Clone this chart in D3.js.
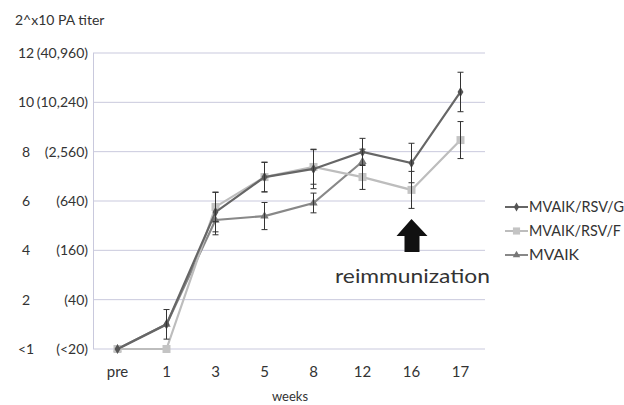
<!DOCTYPE html>
<html><head><meta charset="utf-8">
<script src="https://cdn.jsdelivr.net/npm/d3@7"></script>
<style>body{margin:0;background:#fff}svg{display:block}text{font-family:Lato,"DejaVu Sans",sans-serif;fill:#333}</style>
</head><body><svg id="c" width="624" height="405"></svg>
<script>
const categories = ["pre","1","3","5","8","12","16","17"];
const tickValues = [0,2,4,6,8,10,12];
const tickLeft = ["<1","2","4","6","8","10","12"];
const tickRight = ["(<20)","(40)","(160)","(640)","(2,560)","(10,240)","(40,960)"];
const seriesNames = ["MVAIK/RSV/G","MVAIK/RSV/F","MVAIK"];
const gValues = [0,1.0,5.55,6.97,7.3,7.99,7.54,10.42];
const gErr = [0,0.6,0.8,0.6,0.8,0.55,0.8,0.8];
const fValues = [0,0,5.76,6.97,7.38,6.97,6.45,8.47];
const fErr = [0,0,0.6,0.6,0.7,0.5,0.75,0.75];
const mValues = [0,1.0,5.23,5.39,5.92,7.6,null,null];
const mErr = [0,0,0.6,0.55,0.4,0.5,null,null];

const svg = d3.select("#c");
const x = d3.scaleBand().domain(categories).range([93,485]);
const y = d3.scaleLinear().domain([0,12]).range([349,53]);
const cx = c => x(c) + x.bandwidth()/2;

// grid
svg.append("g").selectAll("line").data(tickValues).join("line")
  .attr("x1",93).attr("x2",485).attr("y1",d=>y(d)).attr("y2",d=>y(d))
  .attr("stroke","#c9c9dd").attr("stroke-width",1);
svg.append("line").attr("x1",93.5).attr("x2",93.5).attr("y1",y(12)).attr("y2",y(0))
  .attr("stroke","#c9c9dd");

// y labels
const yl = svg.append("g");
yl.selectAll("text.l").data(tickValues).join("text").attr("class","l")
  .attr("x",26).attr("y",d=>y(d)+5).attr("text-anchor","middle").attr("font-size",14)
  .text((d,i)=>tickLeft[i]);
yl.selectAll("text.r").data(tickValues).join("text").attr("class","r")
  .attr("x",88).attr("y",d=>y(d)+5).attr("text-anchor","end").attr("font-size",14)
  .text((d,i)=>tickRight[i]);

// x labels
svg.append("g").selectAll("text").data(categories).join("text")
  .attr("x",d=>cx(d)).attr("y",377).attr("text-anchor","middle").attr("font-size",15).text(d=>d);
svg.append("text").attr("x",290).attr("y",401).attr("text-anchor","middle").attr("font-size",13).text("weeks");
svg.append("text").attr("x",15).attr("y",25).attr("font-size",14).text("2^x10 PA titer");

const series = [
  {name:seriesNames[0], v:gValues, e:gErr, line:"#666", mark:"#555", sym:d3.symbolDiamond, size:30},
  {name:seriesNames[1], v:fValues, e:fErr, line:"#bdbdbd", mark:"#c4c4c4", sym:d3.symbolSquare, size:64},
  {name:seriesNames[2], v:mValues, e:mErr, line:"#888", mark:"#777", sym:d3.symbolTriangle, size:30}
];
const line = d3.line().defined(d=>d.v!=null).x(d=>cx(d.c)).y(d=>y(d.v));
[series[2],series[1],series[0]].forEach(s=>{
  const pts = categories.map((c,i)=>({c, v:s.v[i], e:s.e[i]}));
  const g = svg.append("g");
  g.append("path").datum(pts).attr("d",line).attr("fill","none").attr("stroke",s.line).attr("stroke-width",2.2);
  g.selectAll("path.m").data(pts.filter(p=>p.v!=null)).join("path").attr("class","m")
    .attr("transform",p=>`translate(${cx(p.c)},${y(p.v)})`)
    .attr("d",d3.symbol().type(s.sym).size(s.size)).attr("fill",s.mark);
  const eb = pts.filter(p=>p.v!=null && p.e>0);
  g.selectAll("line.ev").data(eb).join("line").attr("class","ev")
    .attr("x1",p=>cx(p.c)).attr("x2",p=>cx(p.c)).attr("y1",p=>y(p.v+p.e)).attr("y2",p=>y(p.v-p.e))
    .attr("stroke","#333").attr("stroke-width",1);
  ["+","-"].forEach(sg=>{
    g.selectAll("line.c"+(sg=="+"?"t":"b")).data(eb).join("line").attr("class","c"+(sg=="+"?"t":"b"))
      .attr("x1",p=>cx(p.c)-3).attr("x2",p=>cx(p.c)+3)
      .attr("y1",p=>y(sg=="+"?p.v+p.e:p.v-p.e)).attr("y2",p=>y(sg=="+"?p.v+p.e:p.v-p.e))
      .attr("stroke","#333").attr("stroke-width",1);
  });
});

// legend
const lg = svg.append("g");
const legW = [95,92,50];
series.forEach((s,i)=>{
  const yy = 207 + i*24;
  lg.append("line").attr("x1",505).attr("x2",528).attr("y1",yy).attr("y2",yy).attr("stroke",s.line).attr("stroke-width",2);
  lg.append("path").attr("transform",`translate(516.5,${yy})`).attr("d",d3.symbol().type(s.sym).size(s.size*0.8)).attr("fill",s.mark);
  lg.append("text").attr("x",529).attr("y",yy+5).attr("font-size",14.5).attr("textLength",legW[i]).attr("lengthAdjust","spacingAndGlyphs").text(s.name);
});

// arrow
const ax = cx("16");
svg.append("path").attr("d",`M${ax},219 L${ax+16},236 L${ax+8},236 L${ax+8},252 L${ax-7},252 L${ax-7},236 L${ax-15},236 Z`).attr("fill","#111");
svg.append("text").attr("x",335).attr("y",283).attr("font-size",20).attr("textLength",155).attr("lengthAdjust","spacingAndGlyphs").text("reimmunization");
</script></body></html>
